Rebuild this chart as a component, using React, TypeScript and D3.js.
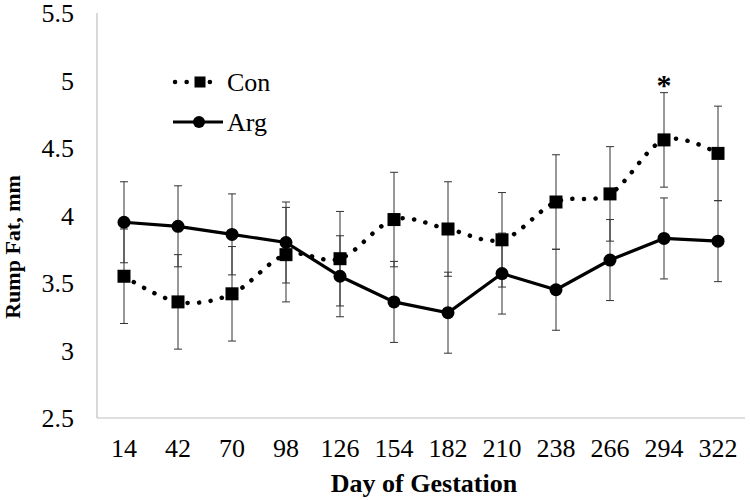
import React from "react";
import * as d3 from "d3";

const days = ["14", "42", "70", "98", "126", "154", "182", "210", "238", "266", "294", "322"];
const conMean = [3.55, 3.36, 3.42, 3.71, 3.68, 3.97, 3.9, 3.82, 4.1, 4.16, 4.56, 4.46];
const conSE = [0.35, 0.35, 0.35, 0.35, 0.35, 0.35, 0.35, 0.35, 0.35, 0.35, 0.35, 0.35];
const argMean = [3.95, 3.92, 3.86, 3.8, 3.55, 3.36, 3.28, 3.57, 3.45, 3.67, 3.83, 3.81];
const argSE = [0.3, 0.3, 0.3, 0.3, 0.3, 0.3, 0.3, 0.3, 0.3, 0.3, 0.3, 0.3];
const yTicks = [2.5, 3, 3.5, 4, 4.5, 5, 5.5];
const starDays = ["294"];
const seriesNames = ["Con", "Arg"];

const W = 750;
const H = 500;
const left = 97;
const right = 745;
const top = 13;
const bottom = 418;
const FONT = "'Liberation Serif', 'Times New Roman', serif";

export default function App() {
  const x = d3.scaleBand<string>().domain(days).range([left, right]).padding(0);
  const y = d3.scaleLinear().domain([2.5, 5.5]).range([bottom, top]);
  const cx = (d: string) => (x(d) as number) + x.bandwidth() / 2;

  const conPts: [number, number][] = days.map((d, i) => [cx(d), y(conMean[i])]);
  const argPts: [number, number][] = days.map((d, i) => [cx(d), y(argMean[i])]);

  const conLine = d3.line().curve(d3.curveCardinal.tension(0))(conPts) as string;
  const argLine = d3.line()(argPts) as string;

  const capW = 4;
  const errBars = (means: number[], se: number[], key: string) =>
    days.map((d, i) => {
      const xc = cx(d);
      const y1 = y(means[i] + se[i]);
      const y2 = y(means[i] - se[i]);
      return (
        <g key={key + d} stroke="#333" strokeWidth={1}>
          <line x1={xc} x2={xc} y1={y1} y2={y2} />
          <line x1={xc - capW} x2={xc + capW} y1={y1} y2={y1} />
          <line x1={xc - capW} x2={xc + capW} y1={y2} y2={y2} />
        </g>
      );
    });

  const sq = 13;
  const r = 6.5;
  const dotStyle = { strokeWidth: 4.5, strokeDasharray: "0.1 11.5", strokeLinecap: "round" as const };

  return (
    <div style={{ position: "fixed", left: 0, top: 0 }}>
      <svg width={W} height={H} style={{ display: "block", background: "#fff" }}>
        <line x1={left} x2={left} y1={top} y2={bottom} stroke="#bfbfbf" strokeWidth={1.2} />
        <line x1={left} x2={right} y1={bottom} y2={bottom} stroke="#bfbfbf" strokeWidth={1.2} />

        {yTicks.map((t) => (
          <text key={t} x={74} y={y(t)} dy="0.35em" textAnchor="end" fontFamily={FONT} fontSize={26} fill="#000">
            {String(t)}
          </text>
        ))}
        {days.map((d) => (
          <text key={d} x={cx(d)} y={457} textAnchor="middle" fontFamily={FONT} fontSize={26} fill="#000">
            {d}
          </text>
        ))}
        <text x={424} y={492} textAnchor="middle" fontFamily={FONT} fontSize={26} fontWeight="bold">
          Day of Gestation
        </text>
        <text
          transform={`translate(20,247) rotate(-90)`}
          textAnchor="middle"
          fontFamily={FONT}
          fontSize={22}
          fontWeight="bold"
        >
          Rump Fat, mm
        </text>

        {errBars(conMean, conSE, "c")}
        {errBars(argMean, argSE, "a")}

        <path d={conLine} fill="none" stroke="#000" {...dotStyle} />
        <path d={argLine} fill="none" stroke="#000" strokeWidth={3.2} />

        {conPts.map((p, i) => (
          <rect key={"cs" + i} x={p[0] - sq / 2} y={p[1] - sq / 2} width={sq} height={sq} fill="#000" />
        ))}
        {argPts.map((p, i) => (
          <circle key={"ac" + i} cx={p[0]} cy={p[1]} r={r} fill="#000" />
        ))}

        {starDays.map((d) => {
          const i = days.indexOf(d);
          return (
            <text key={"star" + d} x={cx(d)} y={y(conMean[i] + conSE[i]) + 2} textAnchor="middle" fontFamily={FONT} fontSize={30} fontWeight="bold">
              *
            </text>
          );
        })}

        <g>
          <line x1={175} x2={218} y1={82} y2={82} stroke="#000" {...dotStyle} />
          <rect x={200 - 11 / 2} y={82 - 11 / 2} width={11} height={11} fill="#000" />
          <text x={227} y={82} dy="0.35em" fontFamily={FONT} fontSize={26}>
            {seriesNames[0]}
          </text>
          <line x1={173} x2={223} y1={122} y2={122} stroke="#000" strokeWidth={3.2} />
          <circle cx={199} cy={122} r={6} fill="#000" />
          <text x={227} y={122} dy="0.35em" fontFamily={FONT} fontSize={26}>
            {seriesNames[1]}
          </text>
        </g>
      </svg>
    </div>
  );
}
